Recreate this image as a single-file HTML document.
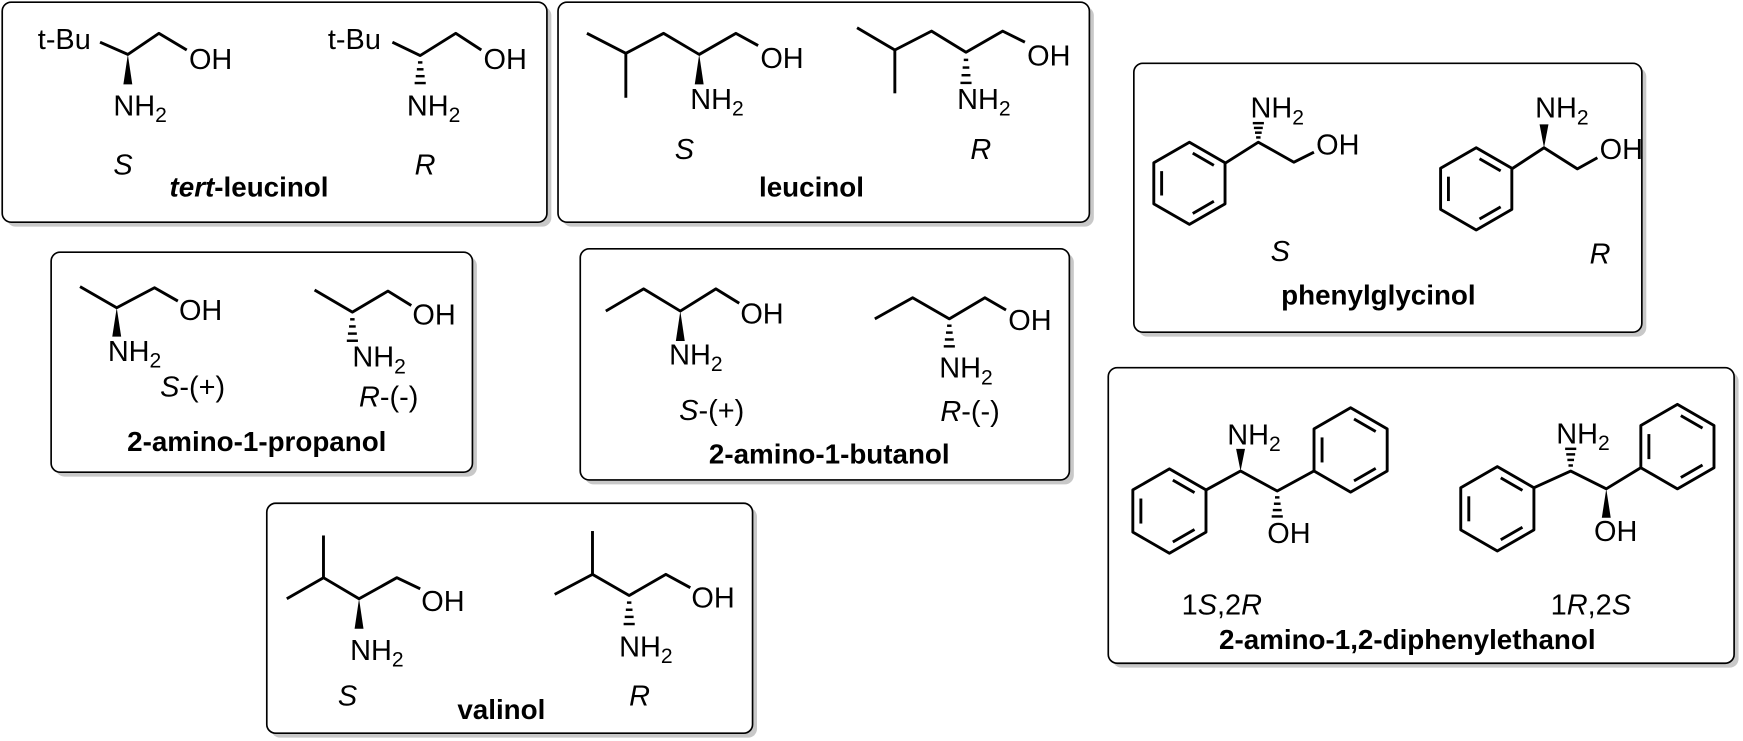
<!DOCTYPE html>
<html><head><meta charset="utf-8"><style>
html,body{margin:0;padding:0;background:#fff;}
svg{display:block;}
text{font-family:"Liberation Sans",Arial,sans-serif;font-size:26px;fill:#000;}
.b{font-weight:bold;font-size:25px;}
.i{font-style:italic;}
.s{font-size:19px;}
</style></head><body>
<svg width="1743" height="741" viewBox="0 0 1568 667" preserveAspectRatio="none" xmlns="http://www.w3.org/2000/svg">
<g fill="#c8c8c8">
<rect x="6" y="6" width="490" height="198" rx="8"/>
<rect x="506" y="6" width="478" height="198" rx="8"/>
<rect x="1024" y="61" width="457" height="242" rx="8"/>
<rect x="50" y="231" width="379" height="198" rx="8"/>
<rect x="526" y="228" width="440" height="208" rx="8"/>
<rect x="1001" y="335" width="563" height="266" rx="8"/>
<rect x="244" y="457" width="437" height="207" rx="8"/>
</g>
<g fill="#fff" stroke="#000" stroke-width="1.5">
<rect x="2" y="2" width="490" height="198" rx="8"/>
<rect x="502" y="2" width="478" height="198" rx="8"/>
<rect x="1020" y="57" width="457" height="242" rx="8"/>
<rect x="46" y="227" width="379" height="198" rx="8"/>
<rect x="522" y="224" width="440" height="208" rx="8"/>
<rect x="997" y="331" width="563" height="266" rx="8"/>
<rect x="240" y="453" width="437" height="207" rx="8"/>
</g>
<g fill="none" stroke="#000" stroke-width="2.6" stroke-linejoin="round">
<polyline points="90,38 115,49 143,30 168,45"/>
<polyline points="353,38 378,50 410,30 433,45"/>
<polyline points="528,30 563,48 597,30 629,49 662,30 682,41"/>
<line x1="563" y1="48" x2="563" y2="88"/>
<polyline points="771,25 805,45 838,28 869,47 902,28 922,38"/>
<line x1="805" y1="45" x2="805" y2="84"/>
<polyline points="1102,147 1132,128 1164,146 1182,137"/>
<polyline points="1360,152 1389,133 1419,152 1437,142"/>
<polyline points="72,258 105,277 139,259 160,271"/>
<polyline points="283,261 317,281 349,262 370,275"/>
<polyline points="545,280 579,260 612,280 644,260 665,273"/>
<polyline points="787,287 821,268 854,287 886,268 905,279"/>
<polyline points="1085,441 1116,424 1149,442 1182,424"/>
<polyline points="1380,439 1413,424 1445,440 1476,421"/>
<polyline points="258,539 291,520 323,539 357,520 378,530"/>
<line x1="291" y1="520" x2="291" y2="482"/>
<polyline points="499,535 533,517 566,536 599,517 621,529"/>
<line x1="533" y1="517" x2="533" y2="478"/>
</g>
<g id="extra"></g>

<text x="34" y="44">t-Bu</text><text x="170" y="62">OH</text>
<text x="102" y="104">NH<tspan class="s" dy="6">2</tspan></text>
<text x="102" y="157" class="i">S</text>
<text x="224" y="177" class="b" text-anchor="middle"><tspan font-style="italic">tert</tspan>-leucinol</text>
<text x="295" y="44">t-Bu</text><text x="435" y="62">OH</text>
<text x="366" y="104">NH<tspan class="s" dy="6">2</tspan></text>
<text x="373" y="157" class="i">R</text>

<text x="684" y="61">OH</text>
<text x="621" y="98">NH<tspan class="s" dy="6">2</tspan></text>
<text x="607" y="143" class="i">S</text>
<text x="730" y="177" class="b" text-anchor="middle">leucinol</text>
<text x="924" y="59">OH</text>
<text x="861" y="98">NH<tspan class="s" dy="6">2</tspan></text>
<text x="873" y="143" class="i">R</text>

<text x="1125" y="106">NH<tspan class="s" dy="6">2</tspan></text>
<text x="1184" y="139">OH</text>
<text x="1143" y="235" class="i">S</text>
<text x="1381" y="106">NH<tspan class="s" dy="6">2</tspan></text>
<text x="1439" y="143">OH</text>
<text x="1430" y="237" class="i">R</text>
<text x="1240" y="274" class="b" text-anchor="middle">phenylglycinol</text>

<text x="161" y="288">OH</text>
<text x="97" y="325">NH<tspan class="s" dy="6">2</tspan></text>
<text x="144" y="357"><tspan class="i">S</tspan>-(+)</text>
<text x="371" y="292">OH</text>
<text x="317" y="330">NH<tspan class="s" dy="6">2</tspan></text>
<text x="323" y="366"><tspan class="i">R</tspan>-(-)</text>
<text x="231" y="406" class="b" text-anchor="middle">2-amino-1-propanol</text>

<text x="666" y="291">OH</text>
<text x="602" y="328">NH<tspan class="s" dy="6">2</tspan></text>
<text x="611" y="378"><tspan class="i">S</tspan>-(+)</text>
<text x="907" y="297">OH</text>
<text x="845" y="340">NH<tspan class="s" dy="6">2</tspan></text>
<text x="846" y="379"><tspan class="i">R</tspan>-(-)</text>
<text x="746" y="417" class="b" text-anchor="middle">2-amino-1-butanol</text>

<text x="1104" y="400">NH<tspan class="s" dy="6">2</tspan></text>
<text x="1140" y="489">OH</text>
<text x="1063" y="553">1<tspan class="i">S</tspan>,2<tspan class="i">R</tspan></text>
<text x="1400" y="399">NH<tspan class="s" dy="6">2</tspan></text>
<text x="1434" y="487">OH</text>
<text x="1395" y="553">1<tspan class="i">R</tspan>,2<tspan class="i">S</tspan></text>
<text x="1266" y="584" class="b" text-anchor="middle">2-amino-1,2-diphenylethanol</text>

<text x="379" y="550">OH</text>
<text x="315" y="594">NH<tspan class="s" dy="6">2</tspan></text>
<text x="304" y="635" class="i">S</text>
<text x="451" y="647" class="b" text-anchor="middle">valinol</text>
<text x="622" y="547">OH</text>
<text x="557" y="591">NH<tspan class="s" dy="6">2</tspan></text>
<text x="566" y="635" class="i">R</text>
</svg>
<script>
(function(){
var g=document.getElementById('extra'),NS='http://www.w3.org/2000/svg';
function el(n,a){var e=document.createElementNS(NS,n);for(var k in a)e.setAttribute(k,a[k]);g.appendChild(e);return e;}
function ln(a,b,c,d,w){el('line',{x1:a,y1:b,x2:c,y2:d,stroke:'#000','stroke-width':w||2.6});}
function benz(cx,cy,r){var p=[];for(var i=0;i<6;i++){var a=(-90+60*i)*Math.PI/180;p.push([cx+r*Math.cos(a),cy+r*Math.sin(a)]);}
el('polygon',{points:p.map(function(q){return q.join(',')}).join(' '),fill:'none',stroke:'#000','stroke-width':2.6,'stroke-linejoin':'round'});
[0,2,4].forEach(function(i){var A=p[i],B=p[(i+1)%6],s=0.78;
function t(P){return [cx+(P[0]-cx)*s,cy+(P[1]-cy)*s];}
var a=t(A),b=t(B),k=0.12;
ln(a[0]+(b[0]-a[0])*k,a[1]+(b[1]-a[1])*k,b[0]-(b[0]-a[0])*k,b[1]-(b[1]-a[1])*k);});}
function wedge(x1,y1,x2,y2){var dx=x2-x1,dy=y2-y1,L=Math.hypot(dx,dy),nx=-dy/L*4,ny=dx/L*4;
el('polygon',{points:x1+','+y1+' '+(x2+nx)+','+(y2+ny)+' '+(x2-nx)+','+(y2-ny),fill:'#000'});}
function hash(x1,y1,x2,y2){var n=4;for(var i=1;i<=n;i++){var t=i/(n+0.2),x=x1+(x2-x1)*t,y=y1+(y2-y1)*t,w=1+i*1;ln(x-w,y,x+w,y,2.2);}}
wedge(115,49,115,76);hash(378,50,378,76);
wedge(629,49,629,76);hash(869,47,869,76);
benz(1070,165,37);hash(1132,128,1132,110);
benz(1328,170,37);wedge(1389,133,1389,112);
wedge(105,277,105,303);hash(317,281,317,308);
wedge(612,280,612,307);hash(854,287,854,313);
benz(1052,460,38);benz(1215,405,38);wedge(1116,424,1116,404);hash(1149,442,1149,466);
benz(1347,458,38);benz(1509,402,38);hash(1413,424,1413,403);wedge(1445,440,1445,466);
wedge(323,539,323,566);hash(566,536,566,563);
})();
</script>
</body></html>
